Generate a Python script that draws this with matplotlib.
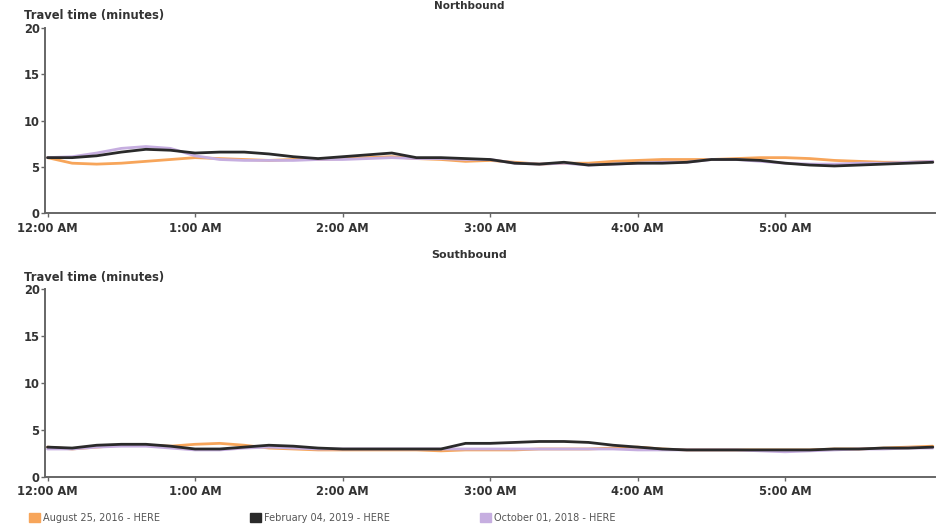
import numpy as np
import matplotlib.pyplot as plt
from matplotlib.patches import Patch

# minutes after midnight, 10 minute bins
minutes = [0, 10, 20, 30, 40, 50, 60, 70, 80, 90, 100, 110, 120, 130, 140, 150, 160, 170,
           180, 190, 200, 210, 220, 230, 240, 250, 260, 270, 280, 290, 300, 310, 320, 330,
           340, 350, 360]

north_aug = [6.0, 5.4, 5.3, 5.4, 5.6, 5.8, 6.0, 5.9, 5.8, 5.7, 5.8, 5.8, 5.9, 6.0, 6.1, 5.9,
             5.8, 5.6, 5.7, 5.5, 5.3, 5.4, 5.4, 5.6, 5.7, 5.8, 5.8, 5.8, 5.9, 6.0, 6.0, 5.9,
             5.7, 5.6, 5.5, 5.5, 5.6]
north_feb = [6.0, 6.0, 6.2, 6.6, 6.9, 6.8, 6.5, 6.6, 6.6, 6.4, 6.1, 5.9, 6.1, 6.3, 6.5, 6.0,
             6.0, 5.9, 5.8, 5.4, 5.3, 5.5, 5.2, 5.3, 5.4, 5.4, 5.5, 5.8, 5.8, 5.7, 5.4, 5.2,
             5.1, 5.2, 5.3, 5.4, 5.5]
north_oct = [6.0, 6.1, 6.5, 7.0, 7.2, 7.0, 6.2, 5.8, 5.7, 5.7, 5.7, 5.8, 5.8, 5.9, 6.0, 5.9,
             5.9, 5.8, 5.8, 5.4, 5.3, 5.4, 5.2, 5.3, 5.4, 5.5, 5.5, 5.8, 5.8, 5.6, 5.4, 5.3,
             5.3, 5.4, 5.4, 5.5, 5.6]

south_aug = [3.2, 3.0, 3.2, 3.4, 3.4, 3.3, 3.5, 3.6, 3.4, 3.1, 3.0, 2.9, 2.9, 2.9, 2.9, 2.9,
             2.8, 2.9, 2.9, 2.9, 3.0, 3.0, 3.0, 3.1, 3.2, 3.0, 2.9, 2.9, 2.9, 2.9, 2.9, 2.9,
             3.0, 3.0, 3.1, 3.2, 3.3]
south_feb = [3.2, 3.1, 3.4, 3.5, 3.5, 3.3, 3.0, 3.0, 3.2, 3.4, 3.3, 3.1, 3.0, 3.0, 3.0, 3.0,
             3.0, 3.6, 3.6, 3.7, 3.8, 3.8, 3.7, 3.4, 3.2, 3.0, 2.9, 2.9, 2.9, 2.9, 2.9, 2.9,
             3.0, 3.0, 3.1, 3.1, 3.2]
south_oct = [3.0, 3.0, 3.2, 3.3, 3.3, 3.1, 2.9, 2.9, 3.1, 3.2, 3.1, 3.0, 3.0, 3.0, 3.0, 3.0,
             3.0, 3.0, 3.0, 3.0, 3.0, 3.0, 3.0, 3.0, 2.9, 2.9, 2.9, 2.9, 2.9, 2.8, 2.7, 2.8,
             2.9, 3.0, 3.0, 3.1, 3.1]

tick_pos = [0, 60, 120, 180, 240, 300]
tick_labels = ["12:00 AM", "1:00 AM", "2:00 AM", "3:00 AM", "4:00 AM", "5:00 AM"]
series_names = ["August 25, 2016 - HERE", "February 04, 2019 - HERE", "October 01, 2018 - HERE"]
colors = ["#f7a55a", "#2a2a2a", "#c6aee0"]

fig = plt.figure(figsize=(9.39, 5.29), dpi=100)
ax1 = fig.add_axes([0.048, 0.597, 0.948, 0.350])
ax2 = fig.add_axes([0.048, 0.098, 0.948, 0.355])

panels = [(ax1, [north_aug, north_feb, north_oct]),
          (ax2, [south_aug, south_feb, south_oct])]

for ax, series in panels:
    # orange, lavender, then black on top
    for idx in [0, 2, 1]:
        ax.plot(minutes, series[idx], color=colors[idx], lw=2.0, solid_capstyle="round")
    ax.set_xlim(-1, 361)
    ax.set_ylim(0, 20)
    ax.set_yticks([0, 5, 10, 15, 20])
    ax.set_xticks(tick_pos)
    ax.set_xticklabels(tick_labels)
    for s in ["top", "right"]:
        ax.spines[s].set_visible(False)
    for s in ["left", "bottom"]:
        ax.spines[s].set_color("#666666")
        ax.spines[s].set_linewidth(1.4)
    ax.tick_params(colors="#666666", length=3, width=1)
    ax.tick_params(axis="x", pad=3)
    ax.tick_params(axis="y", pad=1)
    for lab in ax.get_xticklabels() + ax.get_yticklabels():
        lab.set_fontsize(8.3)
        lab.set_fontweight("bold")
        lab.set_color("#333333")
    ax.text(-0.024, 1.03, "Travel time (minutes)", transform=ax.transAxes,
            fontsize=8.3, fontweight="bold", color="#333333", va="bottom", ha="left")

fig.text(0.5, 0.999, "Northbound", ha="center", va="top", fontsize=7.5,
         fontweight="bold", color="#333333")
fig.text(0.5, 0.518, "Southbound", ha="center", va="center", fontsize=8,
         fontweight="bold", color="#333333")

handles = [Patch(facecolor=c, edgecolor=c) for c in colors]
leg = fig.legend(handles, series_names, loc="lower left", bbox_to_anchor=(0.022, -0.005),
                 ncol=3, frameon=False, fontsize=7.0, handlelength=1.1, handleheight=1.1,
                 handletextpad=0.3, columnspacing=9.3)
for t in leg.get_texts():
    t.set_color("#555555")

fig.savefig("out.png", dpi=100)
